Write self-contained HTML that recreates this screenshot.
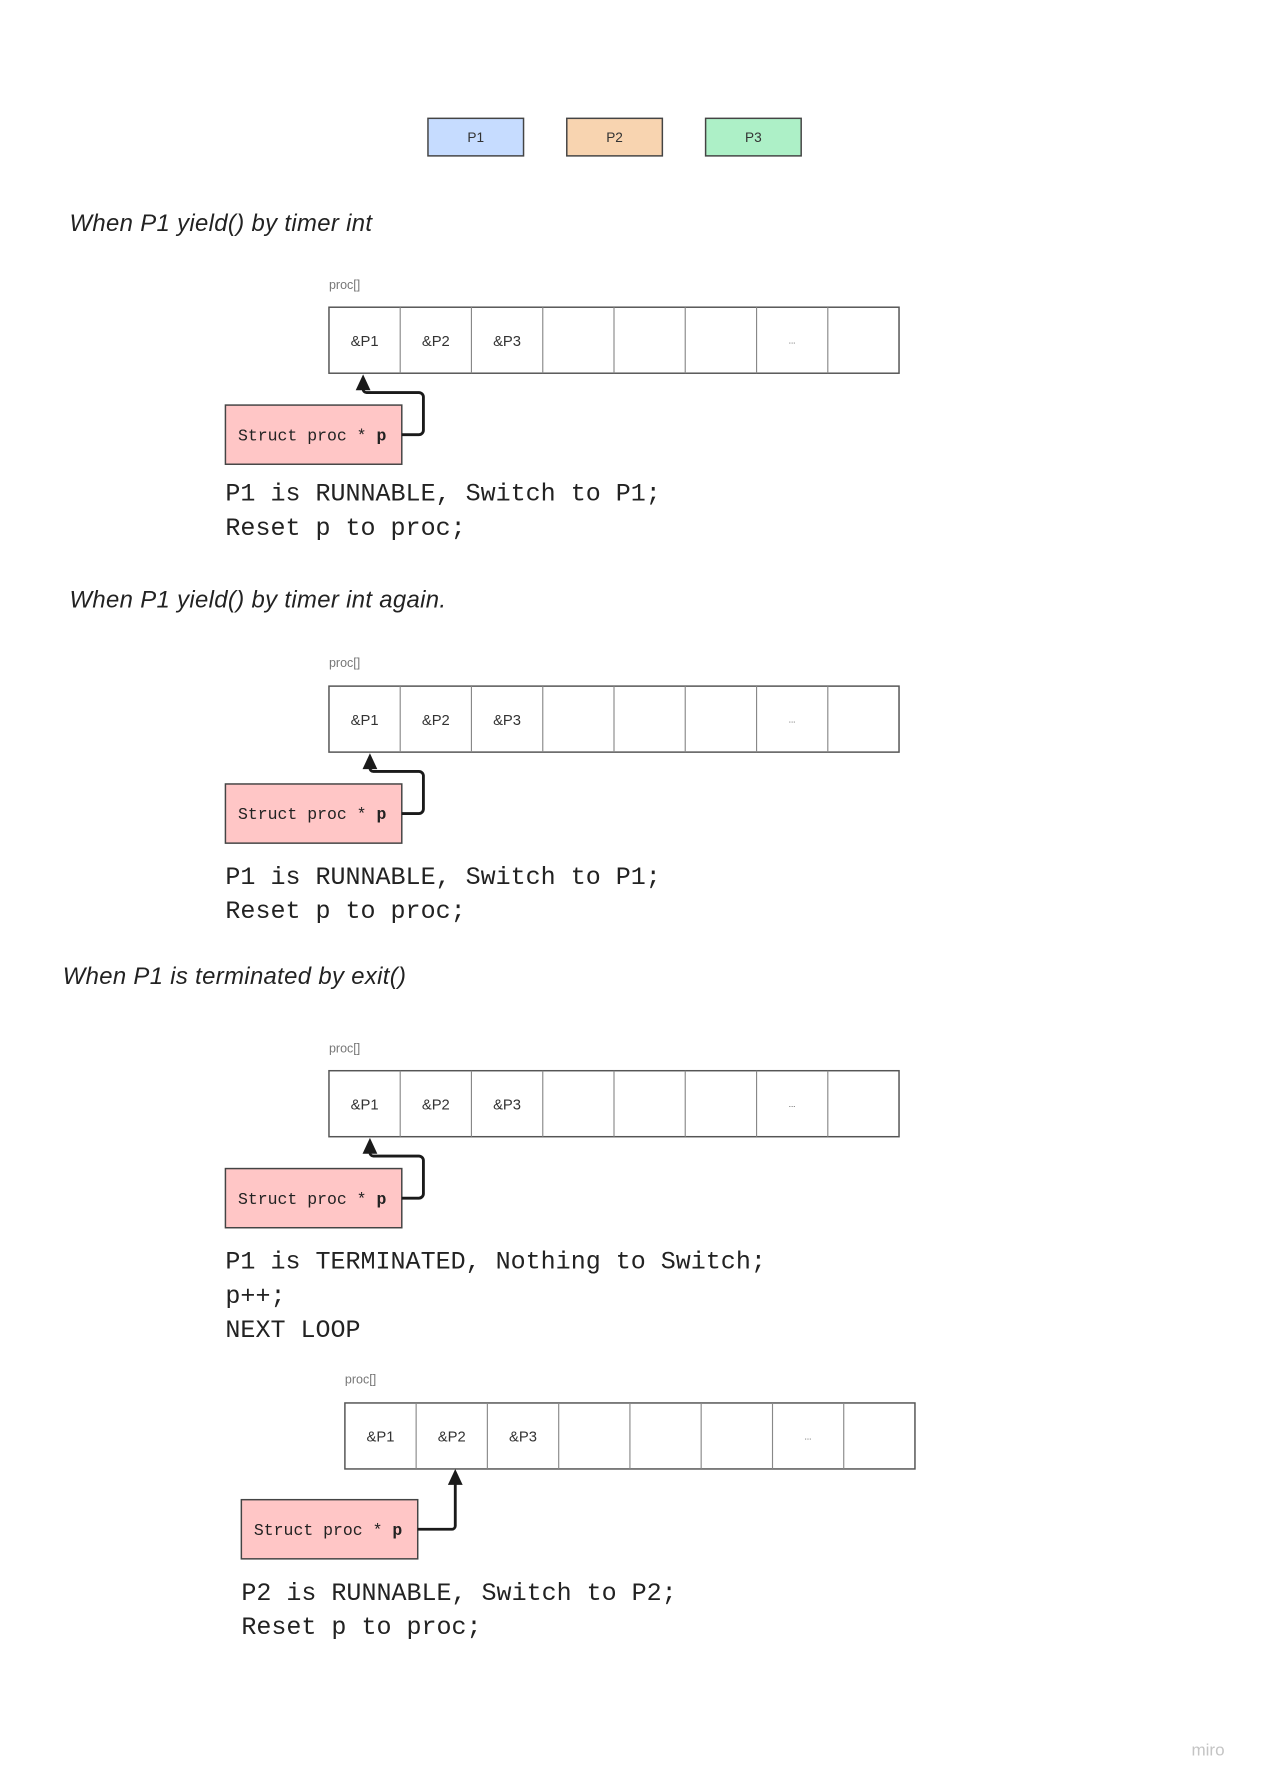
<!DOCTYPE html>
<html><head><meta charset="utf-8"><style>
html,body{margin:0;padding:0;background:#fff;}
svg{display:block;}
.h{font-family:"Liberation Sans",sans-serif;font-style:italic;font-size:21px;fill:#222;letter-spacing:0.3px;}
.lbl{font-family:"Liberation Sans",sans-serif;font-size:11px;fill:#777;}
.cell{font-family:"Liberation Sans",sans-serif;font-size:13px;fill:#333;}
.code{font-family:"Liberation Mono",monospace;font-size:22px;fill:#222;}
.st{font-family:"Liberation Mono",monospace;font-size:14.5px;fill:#222;}
</style></head><body>
<svg width="1261" height="1783" viewBox="0 0 1108 1567" xmlns="http://www.w3.org/2000/svg">
<defs>
<g id="arr">
<rect x="0" y="0" width="501" height="58" fill="#fff" stroke="#555" stroke-width="1.3"/>
<g stroke="#888" stroke-width="1">
<line x1="62.6" y1="0" x2="62.6" y2="58"/><line x1="125.2" y1="0" x2="125.2" y2="58"/>
<line x1="187.9" y1="0" x2="187.9" y2="58"/><line x1="250.5" y1="0" x2="250.5" y2="58"/>
<line x1="313.1" y1="0" x2="313.1" y2="58"/><line x1="375.8" y1="0" x2="375.8" y2="58"/>
<line x1="438.4" y1="0" x2="438.4" y2="58"/>
</g>
<text class="cell" x="31.3" y="34" text-anchor="middle">&amp;P1</text>
<text class="cell" x="93.9" y="34" text-anchor="middle">&amp;P2</text>
<text class="cell" x="156.5" y="34" text-anchor="middle">&amp;P3</text>
<text class="cell" x="407" y="32" text-anchor="middle" style="font-size:7px">...</text>
</g>
<g id="st">
<rect x="0" y="0" width="155" height="52" fill="#ffc6c6" stroke="#444" stroke-width="1.3"/>
<text class="st" x="11" y="31">Struct proc * <tspan font-weight="bold">p</tspan></text>
</g>
</defs>

<rect x="376" y="104" width="84" height="33" fill="#c6dcff" stroke="#444" stroke-width="1.3"/>
<text class="cell" x="418" y="125" text-anchor="middle" style="font-size:12px">P1</text>
<rect x="498" y="104" width="84" height="33" fill="#f8d4b0" stroke="#444" stroke-width="1.3"/>
<text class="cell" x="540" y="125" text-anchor="middle" style="font-size:12px">P2</text>
<rect x="620" y="104" width="84" height="33" fill="#adf0c7" stroke="#444" stroke-width="1.3"/>
<text class="cell" x="662" y="125" text-anchor="middle" style="font-size:12px">P3</text>

<!-- section 1 -->
<text class="h" x="61" y="203">When P1 yield() by timer int</text>
<text class="lbl" x="289" y="254">proc[]</text>
<use href="#arr" x="289" y="270"/>
<use href="#st" x="198" y="356"/>
<path d="M353,382 H368 a4,4 0 0 0 4,-4 V349 a4,4 0 0 0 -4,-4 H322 a3,3 0 0 1 -3,-3 V338" fill="none" stroke="#1a1a1a" stroke-width="2.5"/>
<polygon points="319,329 312.5,343 325.5,343" fill="#1a1a1a"/>
<text class="code" x="198" y="440">P1 is RUNNABLE, Switch to P1;</text>
<text class="code" x="198" y="470">Reset p to proc;</text>

<!-- section 2 -->
<text class="h" x="61" y="534">When P1 yield() by timer int again.</text>
<text class="lbl" x="289" y="586">proc[]</text>
<use href="#arr" x="289" y="603"/>
<use href="#st" x="198" y="689"/>
<path d="M353,715 H368 a4,4 0 0 0 4,-4 V682 a4,4 0 0 0 -4,-4 H328 a3,3 0 0 1 -3,-3 V671" fill="none" stroke="#1a1a1a" stroke-width="2.5"/>
<polygon points="325,662 318.5,676 331.5,676" fill="#1a1a1a"/>
<text class="code" x="198" y="777">P1 is RUNNABLE, Switch to P1;</text>
<text class="code" x="198" y="807">Reset p to proc;</text>

<!-- section 3 -->
<text class="h" x="55" y="865">When P1 is terminated by exit()</text>
<text class="lbl" x="289" y="925">proc[]</text>
<use href="#arr" x="289" y="941"/>
<use href="#st" x="198" y="1027"/>
<path d="M353,1053 H368 a4,4 0 0 0 4,-4 V1020 a4,4 0 0 0 -4,-4 H328 a3,3 0 0 1 -3,-3 V1009" fill="none" stroke="#1a1a1a" stroke-width="2.5"/>
<polygon points="325,1000 318.5,1014 331.5,1014" fill="#1a1a1a"/>
<text class="code" x="198" y="1115">P1 is TERMINATED, Nothing to Switch;</text>
<text class="code" x="198" y="1145">p++;</text>
<text class="code" x="198" y="1175">NEXT LOOP</text>

<!-- section 4 -->
<text class="lbl" x="303" y="1216">proc[]</text>
<use href="#arr" x="303" y="1233"/>
<use href="#st" x="212" y="1318"/>
<path d="M367,1344 H397 a3,3 0 0 0 3,-3 V1300" fill="none" stroke="#1a1a1a" stroke-width="2.5"/>
<polygon points="400,1291 393.5,1305 406.5,1305" fill="#1a1a1a"/>
<text class="code" x="212" y="1406">P2 is RUNNABLE, Switch to P2;</text>
<text class="code" x="212" y="1436">Reset p to proc;</text>

<text x="1047" y="1543" style="font-family:'Liberation Sans',sans-serif;font-size:15px;fill:#c4c4c4">miro</text>
</svg>
</body></html>
